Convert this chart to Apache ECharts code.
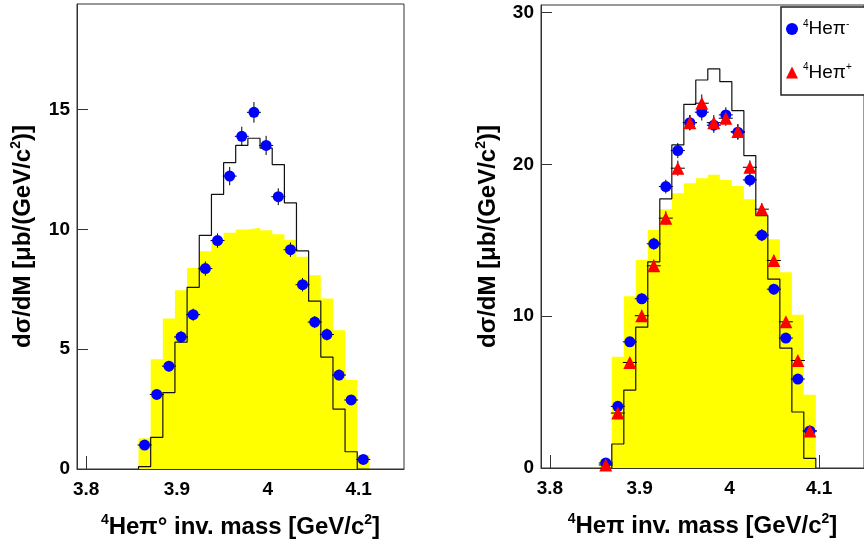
<!DOCTYPE html>
<html><head><meta charset="utf-8">
<script src="https://cdn.jsdelivr.net/npm/echarts@6/dist/echarts.min.js"></script>
<style>html,body{margin:0;padding:0;background:#fff}#c{width:864px;height:550px}</style>
</head><body><div id="c"></div>
<script>
// ---- data ----
const binWidth = 0.01338;
// left panel: 4He pi0
const leftMass = [3.8644,3.8778,3.8912,3.9045,3.9179,3.9313,3.9447,3.9581,3.9714,3.9848,3.9982,4.0116,4.0250,4.0383,4.0517,4.0651,4.0785,4.0918,4.1052];
const leftData = [1.0,3.11,4.29,5.51,6.44,8.36,9.53,12.22,13.88,14.88,13.5,11.36,9.15,7.69,6.13,5.61,3.92,2.88,0.40];
const leftErr  = [0.15,0.2,0.22,0.25,0.25,0.3,0.3,0.38,0.4,0.43,0.4,0.35,0.3,0.28,0.25,0.25,0.22,0.2,0.12];
const leftModel = [0.1,1.32,3.19,5.29,7.58,9.75,11.46,12.78,13.5,13.8,13.39,12.7,11.1,9.1,7.0,4.67,2.5,0.72,0];
const leftPhase = [1.28,4.58,6.28,7.46,8.39,9.08,9.6,9.86,9.99,10.07,9.96,9.79,9.55,8.85,8.08,7.11,5.79,3.71,0.58];
// right panel: 4He pi- / 4He pi+
const rightMass = [3.8622,3.8756,3.8890,3.9023,3.9157,3.9291,3.9425,3.9559,3.9692,3.9826,3.9960,4.0094,4.0228,4.0361,4.0495,4.0629,4.0763,4.0896];
const rightMinus = [0.33,4.06,8.31,11.15,14.77,18.54,20.91,22.75,23.44,22.58,23.26,22.12,18.98,15.34,11.78,8.56,5.86,2.44];
const rightMinusErr = [0.1,0.25,0.3,0.35,0.4,0.45,0.5,0.5,0.55,0.5,0.5,0.5,0.45,0.4,0.35,0.3,0.25,0.2];
const rightPlus = [0.2,3.62,6.95,10.03,13.32,16.46,19.75,22.75,24.03,22.75,23.04,22.16,19.81,17.05,13.67,9.63,7.08,2.44];
const rightPlusErr = [0.1,0.25,0.3,0.35,0.4,0.45,0.5,0.5,0.58,0.5,0.5,0.5,0.45,0.4,0.35,0.3,0.25,0.2];
const rightModel = [0,1.58,5.13,9.28,13.58,17.73,21.28,23.96,25.56,26.29,25.45,23.54,20.58,16.63,12.44,7.9,3.69,0.63];
const rightPhase = [0.55,7.33,11.32,13.71,15.67,17.05,18.1,18.76,19.09,19.31,18.98,18.58,17.71,16.6,15.07,12.9,10.09,4.83];
const xTicks = [3.8,3.9,4.0,4.1];
const leftYTicks = [0,5,10,15];
const rightYTicks = [0,10,20,30];

// ---- helpers ----
function stepData(centers, vals){
  const d = [[centers[0]-binWidth/2, 0]];
  for (let i=0;i<centers.length;i++) d.push([centers[i]-binWidth/2, vals[i]]);
  d.push([centers[centers.length-1]+binWidth/2, 0]);
  return d;
}
function pts(c, v, e){ return c.map((x,i)=>[x, v[i], e[i]]); }
const FONT = 'Liberation Sans, Arial, Helvetica, sans-serif';
const supRich = {
  t:{fontFamily:FONT,fontWeight:'bold',fontSize:24,lineHeight:28,color:'#000'},
  sup:{fontFamily:FONT,fontWeight:'bold',fontSize:14,lineHeight:28,verticalAlign:'top',color:'#000'}
};
function errSeries(name, xi, data){
  return {
    type:'custom', name, xAxisIndex:xi, yAxisIndex:xi, z:4, clip:true,
    data, encode:{x:0,y:1},
    renderItem(params, api){
      const x=api.value(0), y=api.value(1), e=api.value(2);
      const lo=api.coord([x, Math.max(0,y-e)]), hi=api.coord([x,y+e]), pc=api.coord([x,y]);
      return {type:'group', children:[
        {type:'line', shape:{x1:lo[0],y1:lo[1],x2:hi[0],y2:hi[1]}, style:{stroke:'#000',lineWidth:1}},
        {type:'line', shape:{x1:pc[0]-7,y1:pc[1],x2:pc[0]+7,y2:pc[1]}, style:{stroke:'#000',lineWidth:1}}
      ]};
    }
  };
}
function xAxis(gi, nameRich){
  return {
    type:'value', gridIndex:gi, min:3.79, max:4.15,
    name:nameRich, nameLocation:'middle', nameGap:44,
    nameTextStyle:{rich:supRich, fontFamily:FONT, fontWeight:'bold', fontSize:24, color:'#000'},
    axisLine:{show:true, lineStyle:{color:'#333',width:1}},
    axisTick:{show:true, inside:true, length:13, customValues:xTicks, lineStyle:{color:'#333'}},
    axisLabel:{customValues:xTicks, margin:11, fontFamily:FONT, fontWeight:'bold', fontSize:19, color:'#000',
      formatter:v=> (Math.abs(v-4)<1e-9 ? '4' : v.toFixed(1))},
    splitLine:{show:false}
  };
}
function yAxis(gi, max, ticks, gap){
  return {
    type:'value', gridIndex:gi, min:0, max:max,
    name:'{t|d\u03c3/dM [\u03bcb/(GeV/c}{sup|2}{t|)]}', nameLocation:'middle', nameGap:gap, nameRotate:90,
    nameTextStyle:{rich:{
      t:{fontFamily:FONT,fontWeight:'bold',fontSize:24,lineHeight:28,color:'#000'},
      sup:{fontFamily:FONT,fontWeight:'bold',fontSize:14,lineHeight:28,verticalAlign:'top',color:'#000'}
    }, fontFamily:FONT, fontWeight:'bold', fontSize:24, color:'#000'},
    axisLine:{show:true, lineStyle:{color:'#333',width:1}},
    axisTick:{show:true, inside:true, length:11, customValues:ticks, lineStyle:{color:'#333'}},
    axisLabel:{customValues:ticks, margin:7, fontFamily:FONT, fontWeight:'bold', fontSize:19, color:'#000'},
    splitLine:{show:false}
  };
}

const chart = echarts.init(document.getElementById('c'), null, {renderer:'canvas'});
chart.setOption({
  animation:false,
  backgroundColor:'#fff',
  grid:[
    {left:77, top:4, width:327, height:465, show:true, borderColor:'#333', borderWidth:1, containLabel:false},
    {left:541, top:5, width:327, height:463, show:true, borderColor:'#333', borderWidth:1, containLabel:false}
  ],
  xAxis:[
    xAxis(0, '{sup|4}{t|He\u03c0\u00b0 inv. mass [GeV/c}{sup|2}{t|]}'),
    xAxis(1, '{sup|4}{t|He\u03c0 inv. mass [GeV/c}{sup|2}{t|]}')
  ],
  yAxis:[ yAxis(0, 19.4, leftYTicks, 40), yAxis(1, 30.5, rightYTicks, 39) ],
  legend:{
    show:true, orient:'vertical', left:781, top:7,
    data:['pim','pip'],
    backgroundColor:'#fff', borderColor:'#222', borderWidth:1.5,
    padding:[12,40,13,5], itemGap:24, itemWidth:12, itemHeight:12,
    formatter: n => n==='pim' ? '{sup|4}{t|He\u03c0}{sup|-}' : '{sup|4}{t|He\u03c0}{sup|+}',
    textStyle:{rich:{
      t:{fontFamily:FONT,fontSize:19,lineHeight:20,color:'#000'},
      sup:{fontFamily:FONT,fontSize:10,lineHeight:20,verticalAlign:'top',color:'#000'}
    }}
  },
  series:[
    {type:'line', name:'ps0', xAxisIndex:0, yAxisIndex:0, step:'end', data:stepData(leftMass,leftPhase),
     showSymbol:false, lineStyle:{width:0, color:'#ffff00'}, areaStyle:{color:'#ffff00', opacity:1}, z:1},
    {type:'line', name:'mod0', xAxisIndex:0, yAxisIndex:0, step:'end', data:stepData(leftMass,leftModel),
     showSymbol:false, lineStyle:{width:1.2, color:'#111'}, z:2},
    errSeries('e0', 0, pts(leftMass,leftData,leftErr)),
    {type:'scatter', name:'pi0', xAxisIndex:0, yAxisIndex:0, data:leftMass.map((x,i)=>[x,leftData[i]]),
     symbol:'circle', symbolSize:11, itemStyle:{color:'#0000ff', opacity:1}, z:5},

    {type:'line', name:'ps1', xAxisIndex:1, yAxisIndex:1, step:'end', data:stepData(rightMass,rightPhase),
     showSymbol:false, lineStyle:{width:0, color:'#ffff00'}, areaStyle:{color:'#ffff00', opacity:1}, z:1},
    {type:'line', name:'mod1', xAxisIndex:1, yAxisIndex:1, step:'end', data:stepData(rightMass,rightModel),
     showSymbol:false, lineStyle:{width:1.2, color:'#111'}, z:2},
    errSeries('e1', 1, pts(rightMass,rightMinus,rightMinusErr)),
    errSeries('e2', 1, pts(rightMass,rightPlus,rightPlusErr)),
    {type:'scatter', name:'pim', xAxisIndex:1, yAxisIndex:1, data:rightMass.map((x,i)=>[x,rightMinus[i]]),
     symbol:'circle', symbolSize:11, itemStyle:{color:'#0000ff', opacity:1}, z:5},
    {type:'scatter', name:'pip', xAxisIndex:1, yAxisIndex:1, data:rightMass.map((x,i)=>[x,rightPlus[i]]),
     symbol:'triangle', symbolSize:13, itemStyle:{color:'#ff0000', opacity:1}, z:6}
  ]
});
</script></body></html>
